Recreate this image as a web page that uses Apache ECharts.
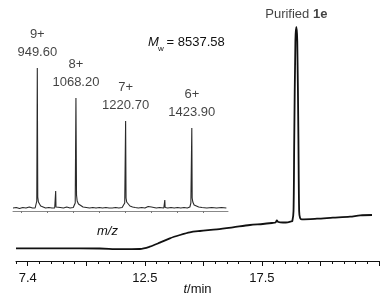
<!DOCTYPE html>
<html>
<head>
<meta charset="utf-8">
<script src="https://cdn.jsdelivr.net/npm/echarts@6/dist/echarts.min.js"></script>
<style>
html, body {margin:0; padding:0; background:#fff;}
#chart {width:387px; height:305px;}
</style>
</head>
<body>
<div id="chart"></div>
<script>
//HPLC trace: retention time (min) / detector signal
var chromTime = [7.0, 8.87, 10.58, 11.43, 12.29, 12.71, 13.14, 13.57, 14.0, 14.42, 14.85, 15.58, 16.26, 16.99, 17.54, 17.93,
                 18.08, 18.14, 18.2, 18.4, 18.6, 18.74, 18.80, 18.85, 18.88, 18.93, 18.97, 19.01, 19.06, 19.09, 19.13, 19.2,
                 19.85, 20.53, 21.26, 21.7, 22.2];
var chromSignal = [12.7, 12.7, 12.5, 11.8, 12.0, 14.3, 18.3, 22.7, 26, 28.7, 30, 31.7, 33.7, 36, 37, 38,
                   38.5, 40.5, 39, 38.5, 38.7, 39.5, 40, 50, 120, 220, 234, 220, 120, 50, 43, 41.7,
                   42.3, 43.3, 44.3, 45.7, 46];
var mainPeakTime = 18.97;
var mainPeakName = 'Purified ';
var mainPeakCompound = '1e';

//ESI-MS inset: m/z / intensity
var msMz = [875, 885, 895, 905, 915, 925, 935, 943, 946, 948, 949.6, 951, 953, 956, 960, 966, 975, 985, 995,
            1003, 1005, 1006, 1007, 1010, 1020, 1030, 1040, 1050, 1060, 1064, 1066, 1068.2, 1070, 1072, 1076, 1082,
            1090, 1100, 1110, 1120, 1130, 1140, 1150, 1160, 1170, 1180, 1190, 1200, 1210, 1216, 1218, 1220.7, 1222,
            1224, 1228, 1234, 1242, 1250, 1260, 1270, 1280, 1290, 1295, 1300, 1305, 1315, 1325, 1338, 1340, 1341,
            1342, 1350, 1360, 1370, 1380, 1390, 1400, 1410, 1418, 1421, 1423.9, 1425, 1427, 1431, 1437, 1445, 1455,
            1470, 1485, 1500, 1515, 1530];
var msIntensity = [3, 3.5, 2.5, 3.5, 3, 4, 3, 3, 5, 10, 143, 14, 9, 7, 5, 4, 3, 3.5, 3,
                   3, 5, 20, 4, 3, 3.5, 3, 4, 3, 3.5, 4, 8, 113, 16, 10, 7, 5,
                   4, 3.5, 3, 3.5, 3, 3.5, 3, 3.5, 3, 3, 3.5, 3, 3.5, 4, 8, 90, 13,
                   9, 7, 5, 4, 3.5, 3, 3.5, 3, 4.5, 5.5, 4, 3.5, 3, 3.5, 3, 4, 11,
                   3.5, 3, 3.5, 3, 3.5, 3, 3.5, 3, 4, 8, 83, 13, 9, 6, 4.5, 4, 3.5,
                   3, 3.5, 3, 3.5, 3];

//labelled charge-state peaks
var peakMz = [949.6, 1068.2, 1220.7, 1423.9];
var peakCharge = ['9+', '8+', '7+', '6+'];
var peakLabel = ['949.60', '1068.20', '1220.70', '1423.90'];
var massText = ' = 8537.58';

//axis ticks
var timeTicks = [7.5, 10, 12.5, 15, 17.5, 20, 22.5];
var timeLabelValues = [7.5, 12.5, 17.5];
var timeLabels = ['7.4', '12.5', '17.5'];
var msTicks = [900, 980, 1060, 1140, 1220, 1300, 1380, 1460];

var chart = echarts.init(document.getElementById('chart'), null, {renderer: 'canvas'});
var fontName = 'Liberation Sans, Arial, sans-serif';

//zip two arrays into [x, y] pairs
function zipData(xs, ys) {
	var res = [];
	for (var i = 0; i < xs.length; i++) {
		res.push([xs[i], ys[i]]);
	}
	return res;
}

//peak labels of the mass spectrum
var peakData = [];
for (var i = 0; i < peakMz.length; i++) {
	var k = msMz.indexOf(peakMz[i]);
	peakData.push({
		value: [msMz[k], msIntensity[k]],
		label: {formatter: '{c|' + peakCharge[i] + '}\n{c|' + peakLabel[i] + '}'}
	});
}
var mainIdx = chromTime.indexOf(mainPeakTime);
var mainPeakData = [{value: [chromTime[mainIdx], chromSignal[mainIdx]]}];

var option = {
	animation: false,
	backgroundColor: '#fff',
	grid: [
		{left: 16, right: 8, top: 21, bottom: 44, outerBoundsMode: 'none'},
		{left: 13, right: 159, top: 21, bottom: 94, outerBoundsMode: 'none'}
	],
	xAxis: [
		{
			gridIndex: 0, type: 'value', position: 'bottom', min: 7, max: 22.5, interval: 0.5,
			axisLine: {lineStyle: {color: '#111', width: 1}},
			axisTick: {length: 3, lineStyle: {color: '#111'}},
			axisLabel: {show: false},
			splitLine: {show: false}
		},
		{
			gridIndex: 0, type: 'value', position: 'bottom', offset: 0, min: 7, max: 22.5,
			axisLine: {show: false},
			axisTick: {show: true, length: 5, customValues: timeTicks, lineStyle: {color: '#111'}},
			axisLabel: {
				show: true, customValues: timeLabelValues, margin: 11,
				color: '#111', fontSize: 13, fontFamily: fontName,
				formatter: function (v) {
					return timeLabels[timeLabelValues.indexOf(v)];
				}
			},
			splitLine: {show: false},
			name: '{i|t}/min', nameLocation: 'middle', nameGap: 22, nameMoveOverlap: false,
			nameTextStyle: {
				color: '#111', fontSize: 13, fontFamily: fontName,
				rich: {i: {fontStyle: 'italic', fontSize: 13, color: '#111', fontFamily: fontName}}
			}
		},
		{
			gridIndex: 1, type: 'value', position: 'bottom', min: 875, max: 1535,
			axisLine: {lineStyle: {color: '#888', width: 1}},
			axisTick: {length: 2, customValues: msTicks, lineStyle: {color: '#777'}},
			axisLabel: {show: false},
			splitLine: {show: false}
		}
	],
	yAxis: [
		{gridIndex: 0, type: 'value', min: 0, max: 240, show: false},
		{gridIndex: 1, type: 'value', min: 0, max: 190, show: false}
	],
	series: [
		{
			name: 'HPLC', type: 'line', xAxisIndex: 0, yAxisIndex: 0,
			data: zipData(chromTime, chromSignal),
			showSymbol: false, smooth: 0.3,
			lineStyle: {color: '#111', width: 1.8}
		},
		{
			name: 'HPLC peak', type: 'scatter', xAxisIndex: 0, yAxisIndex: 0,
			data: mainPeakData, symbolSize: 1, itemStyle: {color: 'rgba(0,0,0,0)'},
			label: {
				show: true, position: 'top', distance: 6,
				formatter: '{n|' + mainPeakName + '}{b|' + mainPeakCompound + '}',
				rich: {
					n: {fontSize: 13, color: '#111', fontFamily: fontName},
					b: {fontSize: 13, color: '#111', fontWeight: 'bold', fontFamily: fontName}
				}
			}
		},
		{
			name: 'MS', type: 'line', xAxisIndex: 2, yAxisIndex: 1,
			data: zipData(msMz, msIntensity),
			showSymbol: false,
			lineStyle: {color: '#2a2a2a', width: 1.1}
		},
		{
			name: 'MS peaks', type: 'scatter', xAxisIndex: 2, yAxisIndex: 1,
			data: peakData, symbolSize: 1, itemStyle: {color: 'rgba(0,0,0,0)'},
			label: {
				show: true, position: 'top', distance: 6,
				rich: {c: {fontSize: 13, color: '#111', lineHeight: 18, align: 'center', fontFamily: fontName}}
			}
		}
	],
	graphic: [
		{type: 'text', left: 148, top: 36, style: {text: 'M', font: 'italic 13px ' + fontName, fill: '#111'}},
		{type: 'text', left: 158, top: 45, style: {text: 'w', font: '8px ' + fontName, fill: '#111'}},
		{type: 'text', left: 163, top: 36, style: {text: massText, font: '13px ' + fontName, fill: '#111'}},
		{type: 'text', left: 97, top: 225, style: {text: 'm/z', font: 'italic 13px ' + fontName, fill: '#111'}}
	]
};
chart.setOption(option);
</script>
</body>
</html>
